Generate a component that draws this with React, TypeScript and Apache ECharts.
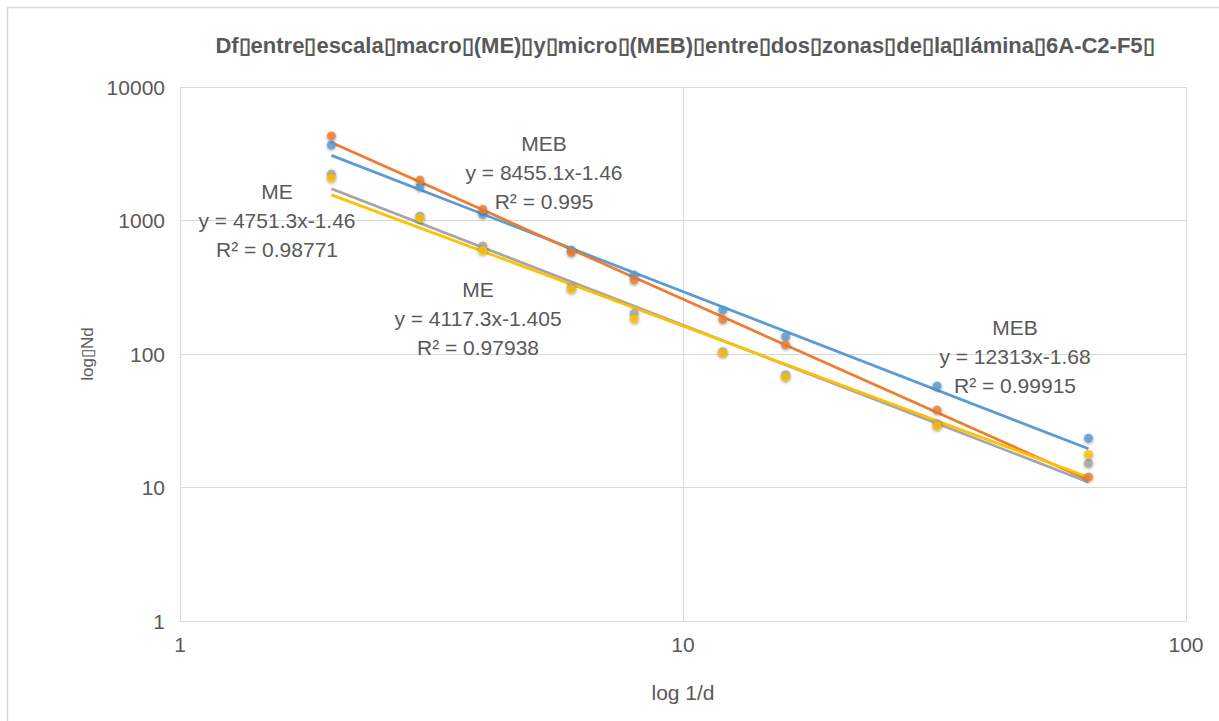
import React, { useEffect, useRef } from "react";
import * as echarts from "echarts";

const xVals = [2, 3, 4, 6, 8, 12, 16, 32, 64];
const mebZona1 = [3680, 1790, 1113, 600, 390, 214, 135, 57.6, 23.4];
const mebZona2 = [4300, 2010, 1213, 578, 358, 182, 117, 38, 12.0];
const meZona1 = [2230, 1080, 644, 318, 202, 104, 70, 30, 15.2];
const meZona2 = [2080, 1040, 594, 306, 183, 102, 67, 28.9, 17.7];

const seriesNames = ["MEB zona 1", "MEB zona 2", "ME zona 1", "ME zona 2"];
const seriesColors = ["#5B9BD5", "#ED7D31", "#A5A5A5", "#FFC000"];
const trendCoefA = [8455.1, 12313, 4751.3, 4117.3];
const trendExpB = [-1.46, -1.68, -1.46, -1.405];
const trendLabels = [
  ["MEB", "y = 8455.1x-1.46", "R² = 0.995"],
  ["MEB", "y = 12313x-1.68", "R² = 0.99915"],
  ["ME", "y = 4751.3x-1.46", "R² = 0.98771"],
  ["ME", "y = 4117.3x-1.405", "R² = 0.97938"],
];
const xTicks = ["1", "10", "100"];
const yTicks = ["1", "10", "100", "1000", "10000"];

const BOX = "\u25AF";
const titleText = ["Df", "entre", "escala", "macro", "(ME)", "y", "micro", "(MEB)", "entre", "dos", "zonas", "de", "la", "lámina", "6A-C2-F5", ""].join(BOX);
const yName = "log" + BOX + "Nd";
const xName = "log 1/d";

const labelPos = [
  { x: 544, y: 143 },
  { x: 1015, y: 327 },
  { x: 277, y: 191 },
  { x: 478, y: 289 },
];

const FONT = "'Liberation Sans', Arial, sans-serif";

export default function App() {
  const ref = useRef<HTMLDivElement>(null);
  useEffect(() => {
    if (!ref.current) return;
    const chart = echarts.init(ref.current, null, { renderer: "svg" });
    const datasets = [mebZona1, mebZona2, meZona1, meZona2];
    const xMin = xVals[0];
    const xMax = xVals[xVals.length - 1];
    const trendSeries = datasets.map((_, i) => ({
      name: seriesNames[i] + " tendencia",
      type: "line",
      data: [
        [xMin, trendCoefA[i] * Math.pow(xMin, trendExpB[i])],
        [xMax, trendCoefA[i] * Math.pow(xMax, trendExpB[i])],
      ],
      showSymbol: false,
      symbol: "none",
      lineStyle: { color: seriesColors[i], width: 2.75 },
      z: 2,
      silent: true,
    }));
    const scatterSeries = datasets.map((d, i) => ({
      name: seriesNames[i],
      type: "scatter",
      data: d.map((v, j) => [xVals[j], v]),
      symbol: "circle",
      symbolSize: 9,
      itemStyle: {
        color: seriesColors[i],
        shadowBlur: 3,
        shadowColor: "rgba(0,0,0,0.45)",
        shadowOffsetX: 0,
        shadowOffsetY: 1,
      },
      z: 3 + i,
    }));
    const annText: any[] = [];
    trendLabels.forEach((lines, i) => {
      lines.forEach((t, k) => {
        annText.push({
          type: "text",
          x: labelPos[i].x,
          y: labelPos[i].y + k * 29,
          z: 100,
          style: {
            text: t,
            fill: "#595959",
            font: "21px " + FONT,
            textAlign: "center",
            textVerticalAlign: "middle",
          },
        });
      });
    });
    const option: any = {
      animation: false,
      backgroundColor: "#ffffff",
      grid: { left: 180, right: 33, top: 87, bottom: 100, containLabel: false },
      xAxis: {
        type: "log",
        logBase: 10,
        min: 1,
        max: 100,
        name: xName,
        nameLocation: "middle",
        nameGap: 61,
        nameTextStyle: { color: "#595959", fontSize: 21, fontFamily: FONT },
        axisLine: { show: true, lineStyle: { color: "#D9D9D9", width: 1 } },
        axisTick: { show: false },
        axisLabel: {
          color: "#595959",
          fontSize: 21,
          fontFamily: FONT,
          margin: 13,
          formatter: (v: number) => {
            const idx = Math.round(Math.log10(v));
            return xTicks[idx] ?? String(v);
          },
        },
        splitLine: { show: true, lineStyle: { color: "#D9D9D9", width: 1 } },
      },
      yAxis: {
        type: "log",
        logBase: 10,
        min: 1,
        max: 10000,
        name: yName,
        nameLocation: "middle",
        nameGap: 80,
        nameTextStyle: { color: "#595959", fontSize: 17, fontFamily: FONT },
        axisLine: { show: true, lineStyle: { color: "#D9D9D9", width: 1 } },
        axisTick: { show: false },
        axisLabel: {
          color: "#595959",
          fontSize: 21,
          fontFamily: FONT,
          margin: 15,
          formatter: (v: number) => {
            const idx = Math.round(Math.log10(v));
            return yTicks[idx] ?? String(v);
          },
        },
        splitLine: { show: true, lineStyle: { color: "#D9D9D9", width: 1 } },
      },
      graphic: [
        {
          type: "rect",
          shape: { x: 7.5, y: 7.5, width: 1230, height: 730 },
          style: { fill: "none", stroke: "#D9D9D9", lineWidth: 1.5 },
          z: -1,
          silent: true,
        },
        {
          type: "text",
          x: 685,
          y: 45,
          style: {
            text: titleText,
            fill: "#595959",
            font: "bold 22px 'Liberation Sans Narrow', 'Liberation Sans', Arial, sans-serif",
            textAlign: "center",
            textVerticalAlign: "middle",
          },
        },
        ...annText,
      ],
      series: [...trendSeries, ...scatterSeries],
    };
    chart.setOption(option);
    return () => chart.dispose();
  }, []);
  return (
    <div
      ref={ref}
      style={{ position: "absolute", left: 0, top: 0, width: 1219, height: 721 }}
    />
  );
}
